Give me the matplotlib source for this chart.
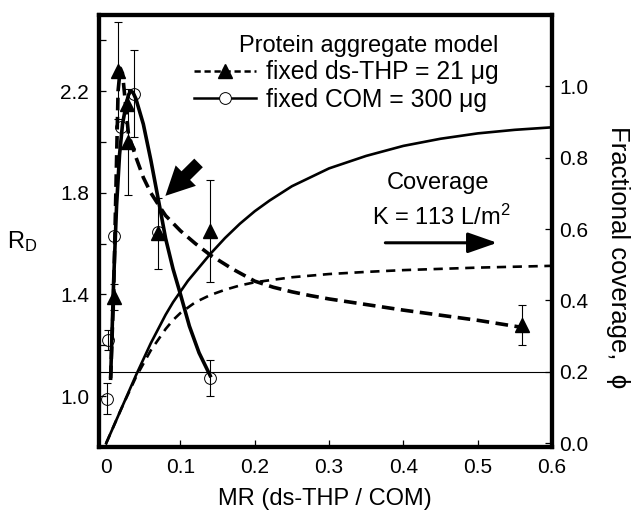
import matplotlib
matplotlib.use("Agg")
import matplotlib.pyplot as plt
import numpy as np
from matplotlib.lines import Line2D
from matplotlib.ticker import FixedLocator, FormatStrFormatter

plt.rcParams.update({
    "font.family": ["Liberation Sans", "DejaVu Sans"],
    "mathtext.default": "regular",
})

# measured R_D points, fixed ds-THP = 21 ug (triangles)
thp_mr = [0.010, 0.016, 0.028, 0.030, 0.070, 0.140, 0.560]
thp_rd = [1.39, 2.28, 2.15, 2.00, 1.64, 1.65, 1.28]
thp_err = [0.05, 0.19, 0.0, 0.21, 0.14, 0.20, 0.08]

# measured R_D points, fixed COM = 300 ug (open circles)
com_mr = [0.001, 0.003, 0.010, 0.020, 0.038, 0.070, 0.140]
com_rd = [0.99, 1.22, 1.63, 2.06, 2.19, 1.645, 1.07]
com_err = [0.06, 0.04, 0.0, 0.0, 0.17, 0.0, 0.07]

# protein aggregate model curves (left axis)
thp_model_mr = [0.006, 0.010, 0.013, 0.016, 0.019, 0.022, 0.026, 0.030, 0.040, 0.050,
                0.060, 0.072, 0.080, 0.100, 0.120, 0.140, 0.170, 0.200, 0.225, 0.250,
                0.275, 0.300, 0.350, 0.400, 0.450, 0.500, 0.560]
thp_model_rd = [1.07, 1.40, 1.80, 2.20, 2.29, 2.27, 2.15, 2.03, 1.94, 1.86,
                1.80, 1.745, 1.71, 1.65, 1.60, 1.555, 1.50, 1.452, 1.428, 1.41,
                1.395, 1.382, 1.36, 1.338, 1.318, 1.298, 1.27]
com_model_mr = [0.006, 0.010, 0.014, 0.018, 0.022, 0.027, 0.030, 0.033, 0.036, 0.040,
                0.050, 0.060, 0.072, 0.080, 0.090, 0.100, 0.112, 0.125, 0.140]
com_model_rd = [1.07, 1.45, 1.75, 1.95, 2.07, 2.15, 2.185, 2.20, 2.195, 2.17,
                2.07, 1.93, 1.745, 1.62, 1.50, 1.40, 1.275, 1.17, 1.08]

# coverage curves (right axis)
cov_mr = [0.0, 0.02, 0.04, 0.06, 0.07, 0.08, 0.09, 0.10, 0.11, 0.12, 0.13, 0.14,
          0.16, 0.18, 0.20, 0.22, 0.25, 0.30, 0.35, 0.40, 0.45, 0.50, 0.55, 0.60]
cov_solid = [0.0, 0.095, 0.19, 0.28, 0.32, 0.36, 0.395, 0.425, 0.455, 0.48, 0.505, 0.53,
             0.575, 0.615, 0.65, 0.68, 0.72, 0.77, 0.805, 0.833, 0.853, 0.868, 0.878, 0.885]
cov_dash_mr = [0.0, 0.02, 0.04, 0.06, 0.07, 0.08, 0.09, 0.10, 0.12, 0.14, 0.16, 0.18,
               0.20, 0.25, 0.30, 0.35, 0.40, 0.50, 0.60]
cov_dash = [0.0, 0.095, 0.185, 0.26, 0.29, 0.32, 0.345, 0.365, 0.395, 0.415, 0.43, 0.442,
            0.451, 0.465, 0.474, 0.48, 0.485, 0.492, 0.497]

baseline_phi = 0.2

fig = plt.figure(figsize=(6.33, 5.13), dpi=100)
ax = fig.add_axes([0.156, 0.129, 0.716, 0.842])
ax2 = ax.twinx()

# coverage
ax2.plot(cov_mr, cov_solid, "-", color="black", lw=1.9)
ax2.plot(cov_dash_mr, cov_dash, color="black", lw=1.9, dashes=(3.5, 2.5))
ax2.axhline(baseline_phi, color="black", lw=0.8)

# models
ax.plot(thp_model_mr, thp_model_rd, color="black", lw=2.6, dashes=(3.5, 1.8))
ax.plot(com_model_mr, com_model_rd, "-", color="black", lw=2.6)

# data
thp_err = np.array(thp_err)
com_err = np.array(com_err)
m = thp_err > 0
ax.errorbar(np.array(thp_mr)[m], np.array(thp_rd)[m], yerr=thp_err[m], fmt="none",
            ecolor="black", elinewidth=0.8, capsize=3, capthick=0.8)
m = com_err > 0
ax.errorbar(np.array(com_mr)[m], np.array(com_rd)[m], yerr=com_err[m], fmt="none",
            ecolor="black", elinewidth=0.8, capsize=3, capthick=0.8)
ax.plot(com_mr, com_rd, "o", ms=8.5, mfc="none", mec="black", mew=0.7)
ax.plot(thp_mr, thp_rd, "^", ms=9.5, color="black")

ax.set_xlim(-0.01, 0.6)
ax.set_ylim(0.8, 2.5)
ax2.set_ylim(-0.01, 1.2)

ax.xaxis.set_major_locator(FixedLocator([0, 0.1, 0.2, 0.3, 0.4, 0.5, 0.6]))
ax.set_xticklabels(["0", "0.1", "0.2", "0.3", "0.4", "0.5", "0.6"])
ax.yaxis.set_major_locator(FixedLocator([1.0, 1.4, 1.8, 2.2]))
ax.yaxis.set_minor_locator(FixedLocator([1.2, 1.6, 2.0, 2.4]))
ax.yaxis.set_major_formatter(FormatStrFormatter("%.1f"))
ax2.yaxis.set_major_locator(FixedLocator([0.0, 0.2, 0.4, 0.6, 0.8, 1.0]))
ax2.yaxis.set_major_formatter(FormatStrFormatter("%.1f"))

ax.tick_params(axis="both", which="both", direction="in", length=5, width=0.9,
               labelsize=15, right=False, top=False)
ax.tick_params(axis="y", pad=7)
ax.tick_params(axis="x", pad=8)
ax2.tick_params(axis="y", direction="in", length=5, width=0.9, labelsize=15, pad=5)
for a in (ax, ax2):
    for s in a.spines.values():
        s.set_linewidth(3)

ax.set_xlabel("MR (ds-THP / COM)", fontsize=17, labelpad=8)
ax.set_ylabel("R$_{D}$", fontsize=17, rotation=0, va="center", ha="center")
ax.yaxis.set_label_coords(-0.168, 0.475)
ax2.set_ylabel("Fractional coverage,  ϕ", fontsize=18.5, rotation=270,
               va="center", ha="center")
ax2.yaxis.set_label_coords(1.146, 0.44)

# legend
handles = [
    Line2D([], [], color="black", lw=1.8, dashes=(2.5, 1.5), marker="^", ms=9.5),
    Line2D([], [], color="black", lw=1.8, marker="o", ms=8.5, mfc="white", mec="black", mew=0.7),
]
leg = ax.legend(handles, ["fixed ds-THP = 21 μg", "fixed COM = 300 μg"],
                title="Protein aggregate model", title_fontsize=17, fontsize=17.8,
                frameon=False, loc="upper right", bbox_to_anchor=(0.925, 1.0),
                handlelength=2.5, handletextpad=0.4, labelspacing=0.15,
                borderpad=0.3, alignment="right")

# annotations
ax.text(0.447, 1.84, "Coverage", fontsize=17, ha="center", va="center")
ax.text(0.451, 1.705, "K = 113 L/m$^{2}$", fontsize=17, ha="center", va="center")
ax.annotate("", xy=(0.530, 1.603), xytext=(0.372, 1.603),
            arrowprops=dict(arrowstyle="-|>,head_length=1.0,head_width=0.35",
                            color="black", lw=2.2, mutation_scale=18))
ax.annotate("", xy=(0.077, 1.78), xytext=(0.127, 1.925),
            arrowprops=dict(arrowstyle="simple,head_length=0.9,head_width=0.9,tail_width=0.38",
                            color="black", lw=0, mutation_scale=23))

fig.savefig("out.png", dpi=100)
